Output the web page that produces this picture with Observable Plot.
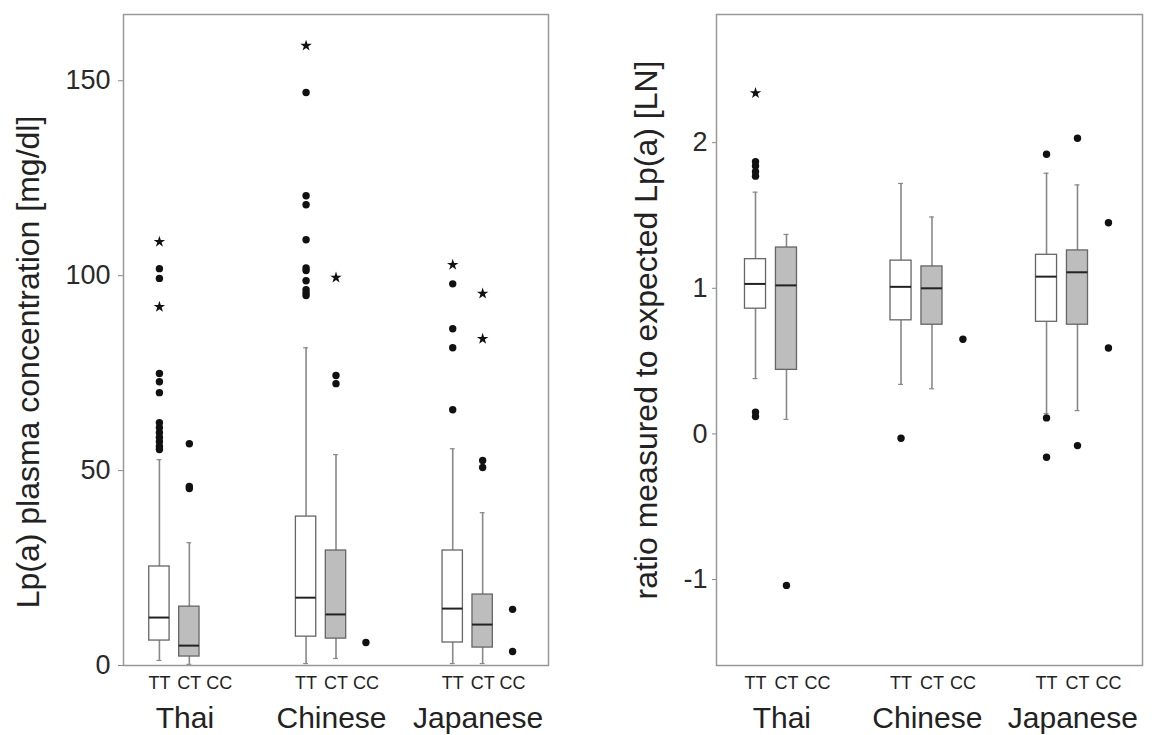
<!DOCTYPE html>
<html>
<head>
<meta charset="utf-8">
<script src="https://cdn.jsdelivr.net/npm/d3@7"></script>
<script src="https://cdn.jsdelivr.net/npm/@observablehq/plot@0.6"></script>
<style>
  html, body { margin: 0; padding: 0; background: #fff; }
  #row { display: flex; width: 1152px; height: 735px; }
  svg { font-family: "Liberation Sans", Arial, sans-serif; }
</style>
</head>
<body>
<div id="row"></div>
<script>
const groups = ["Thai", "Chinese", "Japanese"];
const genotypes = ["TT", "CT", "CC"];

// [group, genotype, whiskerLow, q1, median, q3, whiskerHigh]
const lpBoxes = [
  ["Thai", "TT", 1.3, 6.4, 12.3, 25.4, 52.8],
  ["Thai", "CT", 0.3, 2.3, 5.1, 15.1, 31.5],
  ["Chinese", "TT", 0.5, 7.4, 17.4, 38.2, 81.5],
  ["Chinese", "CT", 1.8, 6.9, 13.1, 29.5, 54.1],
  ["Japanese", "TT", 0.5, 5.9, 14.6, 29.5, 55.6],
  ["Japanese", "CT", 0.5, 4.6, 10.5, 18.2, 39.2]
];
// [group, genotype, value, kind]  (o = outlier, * = extreme)
const lpOutliers = [
  ["Thai", "TT", 55.4, "o"], ["Thai", "TT", 56.2, "o"], ["Thai", "TT", 57.4, "o"],
  ["Thai", "TT", 58.5, "o"], ["Thai", "TT", 59.7, "o"], ["Thai", "TT", 61.0, "o"],
  ["Thai", "TT", 62.3, "o"], ["Thai", "TT", 70.0, "o"], ["Thai", "TT", 72.8, "o"],
  ["Thai", "TT", 74.9, "o"], ["Thai", "TT", 92.0, "*"], ["Thai", "TT", 99.3, "o"],
  ["Thai", "TT", 101.8, "o"], ["Thai", "TT", 108.7, "*"],
  ["Thai", "CT", 45.4, "o"], ["Thai", "CT", 45.9, "o"], ["Thai", "CT", 56.9, "o"],
  ["Chinese", "TT", 94.9, "o"], ["Chinese", "TT", 95.6, "o"], ["Chinese", "TT", 96.4, "o"],
  ["Chinese", "TT", 98.7, "o"], ["Chinese", "TT", 101.3, "o"], ["Chinese", "TT", 102.0, "o"],
  ["Chinese", "TT", 109.2, "o"], ["Chinese", "TT", 118.2, "o"], ["Chinese", "TT", 120.5, "o"],
  ["Chinese", "TT", 147.0, "o"], ["Chinese", "TT", 159.0, "*"],
  ["Chinese", "CT", 72.3, "o"], ["Chinese", "CT", 74.4, "o"], ["Chinese", "CT", 99.5, "*"],
  ["Chinese", "CC", 5.9, "o"],
  ["Japanese", "TT", 65.6, "o"], ["Japanese", "TT", 81.5, "o"], ["Japanese", "TT", 86.4, "o"],
  ["Japanese", "TT", 97.9, "o"], ["Japanese", "TT", 102.8, "*"],
  ["Japanese", "CT", 50.8, "o"], ["Japanese", "CT", 52.6, "o"], ["Japanese", "CT", 83.8, "*"],
  ["Japanese", "CT", 95.4, "*"],
  ["Japanese", "CC", 3.6, "o"], ["Japanese", "CC", 14.4, "o"]
];
const lpTicks = [0, 50, 100, 150];

const ratioBoxes = [
  ["Thai", "TT", 0.38, 0.86, 1.03, 1.20, 1.66],
  ["Thai", "CT", 0.10, 0.44, 1.02, 1.28, 1.37],
  ["Chinese", "TT", 0.34, 0.78, 1.01, 1.19, 1.72],
  ["Chinese", "CT", 0.31, 0.75, 1.00, 1.15, 1.49],
  ["Japanese", "TT", 0.14, 0.77, 1.08, 1.23, 1.79],
  ["Japanese", "CT", 0.16, 0.75, 1.11, 1.26, 1.71]
];
const ratioOutliers = [
  ["Thai", "TT", 1.77, "o"], ["Thai", "TT", 1.80, "o"], ["Thai", "TT", 1.84, "o"],
  ["Thai", "TT", 1.87, "o"], ["Thai", "TT", 2.34, "*"],
  ["Thai", "TT", 0.12, "o"], ["Thai", "TT", 0.15, "o"],
  ["Thai", "CT", -1.04, "o"],
  ["Chinese", "TT", -0.03, "o"],
  ["Chinese", "CC", 0.65, "o"],
  ["Japanese", "TT", 1.92, "o"], ["Japanese", "TT", 0.11, "o"], ["Japanese", "TT", -0.16, "o"],
  ["Japanese", "CT", 2.03, "o"], ["Japanese", "CT", -0.08, "o"],
  ["Japanese", "CC", 1.45, "o"], ["Japanese", "CC", 0.59, "o"]
];
const ratioTicks = [-1, 0, 1, 2];

function panel({boxes, outliers, ticks, yDomain, xDomain, step, label, labelSize, labelDx, labelDy,
                tickSize, tickPadding, marginLeft, marginRight}) {
  const pos = (g, t) => groups.indexOf(g) * step + genotypes.indexOf(t);
  const B = boxes.map(([g, t, lo, q1, med, q3, hi]) => ({g, t, lo, q1, med, q3, hi, x: pos(g, t)}));
  const O = outliers.map(([g, t, v, k]) => ({g, t, v, k, x: pos(g, t)}));
  const half = 0.34, cap = 0.08;
  const labels = groups.flatMap(g => genotypes.map(t => ({g, t, x: pos(g, t)})));
  const groupLabels = groups.map(g => ({g, x: pos(g, "TT") + 0.85}));
  const y0 = yDomain[0];
  return Plot.plot({
    width: 576, height: 735,
    marginTop: 14, marginBottom: 70, marginLeft, marginRight,
    x: {domain: xDomain, axis: null},
    y: {domain: yDomain},
    style: {fontFamily: "Liberation Sans, Arial, sans-serif", color: "#222", background: "#fff"},
    marks: [
      Plot.axisY(ticks, {tickSize, tickPadding, fontSize: 27, stroke: "#888", fill: "#2a2a2a",
        tickFormat: d => String(d), label: null}),
      Plot.text([label], {frameAnchor: "left", textAnchor: "middle", lineAnchor: "middle",
        rotate: -90, dx: labelDx, dy: labelDy, fontSize: labelSize, fill: "#222"}),
      // whiskers
      Plot.ruleX(B, {x: "x", y1: "lo", y2: "q1", stroke: "#888", strokeWidth: 1.6}),
      Plot.ruleX(B, {x: "x", y1: "q3", y2: "hi", stroke: "#888", strokeWidth: 1.6}),
      Plot.ruleY(B, {y: "lo", x1: d => d.x - cap, x2: d => d.x + cap, stroke: "#888", strokeWidth: 1.2}),
      Plot.ruleY(B, {y: "hi", x1: d => d.x - cap, x2: d => d.x + cap, stroke: "#888", strokeWidth: 1.2}),
      // boxes
      Plot.rect(B, {x1: d => d.x - half, x2: d => d.x + half, y1: "q1", y2: "q3",
        fill: d => d.t === "TT" ? "#fff" : "#bdbdbd", stroke: "#666", strokeWidth: 1.3}),
      Plot.ruleY(B, {y: "med", x1: d => d.x - half, x2: d => d.x + half, stroke: "#222", strokeWidth: 2}),
      // outliers
      Plot.dot(O.filter(d => d.k === "o"), {x: "x", y: "v", r: 3.7, fill: "#111", stroke: "none"}),
      Plot.dot(O.filter(d => d.k === "*"), {x: "x", y: "v", r: 3.6, symbol: "star", fill: "#111", stroke: "none"}),
      Plot.frame({stroke: "#999", strokeWidth: 1.5}),
      // category labels
      Plot.text(labels, {x: "x", y: () => y0, text: "t", dy: 18, fontSize: 18, fill: "#222"}),
      Plot.text(groupLabels, {x: "x", y: () => y0, text: "g", dy: 53, fontSize: 30, fill: "#222"})
    ]
  });
}

const left = panel({
  boxes: lpBoxes, outliers: lpOutliers, ticks: lpTicks,
  yDomain: [0, 167], xDomain: [-1.2, 13], step: 4.9,
  label: "Lp(a) plasma concentration [mg/dl]", labelSize: 32, labelDx: -95, labelDy: 22,
  tickSize: 5, tickPadding: 8,
  marginLeft: 123, marginRight: 28
});
const right = panel({
  boxes: ratioBoxes, outliers: ratioOutliers, ticks: ratioTicks,
  yDomain: [-1.59, 2.88], xDomain: [-1.26, 12.5], step: 4.7,
  label: "ratio measured to expected Lp(a) [LN]", labelSize: 32, labelDx: -70, labelDy: -10,
  tickSize: 4, tickPadding: 5,
  marginLeft: 140, marginRight: 10
});
document.getElementById("row").append(left, right);
</script>
</body>
</html>
